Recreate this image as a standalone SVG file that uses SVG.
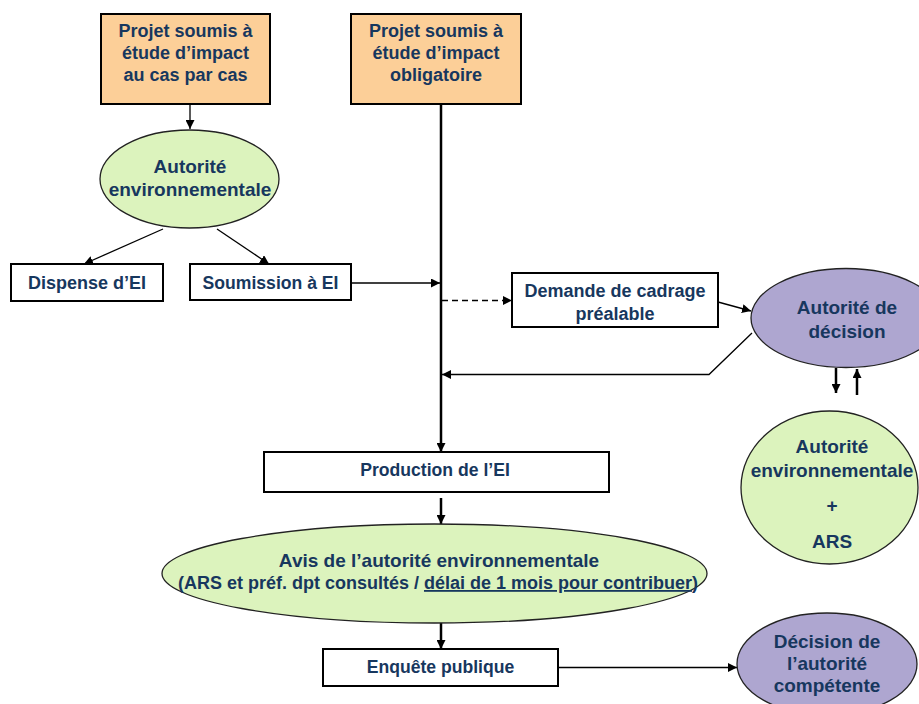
<svg xmlns="http://www.w3.org/2000/svg" width="919" height="704" viewBox="0 0 919 704">
  <defs>
    <marker id="arr" viewBox="0 0 10 10" refX="10" refY="5" markerWidth="9" markerHeight="9" markerUnits="userSpaceOnUse" orient="auto">
      <path d="M0,0 L10,5 L0,10 z" fill="#000"/>
    </marker>
    <style>
      text { font-family: "Liberation Sans", Arial, sans-serif; font-weight: bold; fill: #17375e; text-anchor: middle; }
      .box { fill: #fff; stroke: #000; stroke-width: 2; }
      .orange { fill: #fccf98; stroke: #000; stroke-width: 2; }
      .green { fill: #dcf3bd; stroke: #222; stroke-width: 1.3; }
      .purple { fill: #aea6d0; stroke: #222; stroke-width: 1.3; }
      .c { fill: none; stroke: #000; stroke-width: 1.3; }
      .thick { fill: none; stroke: #000; stroke-width: 2.5; }
      .f19 { font-size: 19px; }
      .f18 { font-size: 18px; }
      .f17 { font-size: 17.6px; }
    </style>
  </defs>
  <rect width="919" height="704" fill="#fff"/>

  <!-- connectors -->
  <g id="connectors">
    <line class="c" x1="190" y1="104" x2="190" y2="129" marker-end="url(#arr)"/>
    <line class="c" x1="163" y1="229" x2="84" y2="264" marker-end="url(#arr)"/>
    <line class="c" x1="217" y1="229" x2="269" y2="264" marker-end="url(#arr)"/>
    <line class="thick" x1="441" y1="104" x2="441" y2="452" marker-end="url(#arr)"/>
    <line class="c" x1="351" y1="283" x2="440" y2="283" marker-end="url(#arr)"/>
    <line class="c" x1="442" y1="300.5" x2="512" y2="300.5" stroke-dasharray="6,4" marker-end="url(#arr)"/>
    <line class="c" x1="718" y1="302" x2="751" y2="311" marker-end="url(#arr)"/>
    <polyline class="c" points="752,333 709,374.5 442,374.5" marker-end="url(#arr)"/>
    <line class="thick" x1="836" y1="368" x2="836" y2="393" stroke-width="2" marker-end="url(#arr)"/>
    <line class="thick" x1="857" y1="395" x2="857" y2="369" stroke-width="2" marker-end="url(#arr)"/>
    <line class="thick" x1="441" y1="498" x2="441" y2="524" stroke-width="2" marker-end="url(#arr)"/>
    <line class="thick" x1="441" y1="623" x2="441" y2="649" stroke-width="2" marker-end="url(#arr)"/>
    <line class="c" x1="558" y1="667.5" x2="737" y2="667.5" marker-end="url(#arr)"/>
  </g>

  <g id="projet-cas-par-cas">
    <rect class="orange" x="101" y="14" width="169" height="90"/>
    <text class="f18" x="185.5"><tspan x="185.5" y="37">Projet soumis à</tspan><tspan x="185.5" y="59">étude d’impact</tspan><tspan x="185.5" y="81">au cas par cas</tspan></text>
  </g>

  <g id="projet-obligatoire">
    <rect class="orange" x="351" y="14" width="170" height="90"/>
    <text class="f18" x="436"><tspan x="436" y="37">Projet soumis à</tspan><tspan x="436" y="59">étude d’impact</tspan><tspan x="436" y="81">obligatoire</tspan></text>
  </g>

  <g id="autorite-env-1">
    <ellipse class="green" cx="189.5" cy="179" rx="89.5" ry="49"/>
    <text class="f19"><tspan x="190" y="173">Autorité</tspan><tspan x="190" y="196">environnementale</tspan></text>
  </g>

  <g id="dispense">
    <rect class="box" x="11" y="264" width="152" height="37"/>
    <text class="f18" x="87" y="289">Dispense d’EI</text>
  </g>

  <g id="soumission">
    <rect class="box" x="190" y="264" width="161" height="36"/>
    <text class="f17" x="270.5" y="289">Soumission à EI</text>
  </g>

  <g id="demande-cadrage">
    <rect class="box" x="512" y="273" width="206" height="54"/>
    <text class="f18"><tspan x="615" y="297">Demande de cadrage</tspan><tspan x="615" y="320">préalable</tspan></text>
  </g>

  <g id="autorite-decision">
    <ellipse class="purple" cx="846" cy="318" rx="95" ry="49.5"/>
    <text class="f19"><tspan x="847" y="314">Autorité de</tspan><tspan x="847" y="338">décision</tspan></text>
  </g>

  <g id="autorite-env-ars">
    <ellipse class="green" cx="829.5" cy="487.5" rx="88.5" ry="76.5"/>
    <text class="f19"><tspan x="832" y="453">Autorité</tspan><tspan x="832" y="477">environnementale</tspan><tspan x="832" y="512">+</tspan><tspan x="832" y="548">ARS</tspan></text>
  </g>

  <g id="production">
    <rect class="box" x="264" y="452" width="345" height="40"/>
    <text class="f17" x="435" y="476">Production de l’EI</text>
  </g>

  <g id="avis">
    <ellipse class="green" cx="434.5" cy="573.5" rx="272.5" ry="49.5"/>
    <text class="f19" x="439" y="567">Avis de l’autorité environnementale</text>
    <text class="f18" x="438" y="589">(ARS et préf. dpt consultés / <tspan text-decoration="underline">délai de 1 mois pour contribuer</tspan>)</text>
  </g>

  <g id="enquete">
    <rect class="box" x="323" y="649" width="235" height="37"/>
    <text class="f17" x="440.5" y="673">Enquête publique</text>
  </g>

  <g id="decision-competente">
    <ellipse class="purple" cx="827" cy="664" rx="90" ry="51"/>
    <text class="f19"><tspan x="827" y="648">Décision de</tspan><tspan x="827" y="670">l’autorité</tspan><tspan x="827" y="692">compétente</tspan></text>
  </g>
</svg>
